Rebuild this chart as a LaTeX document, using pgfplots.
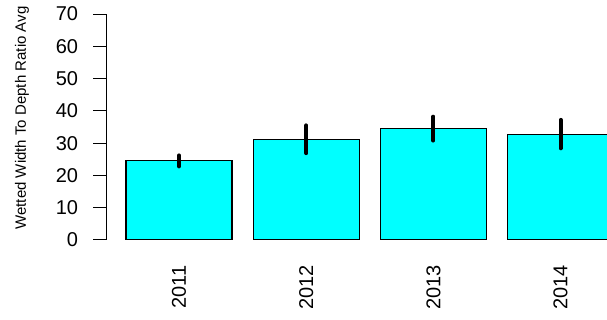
\documentclass[border=0pt]{standalone}
\usepackage{fontspec}
\setmainfont{Liberation Sans}
\usepackage{pgfplots}
\pgfplotsset{compat=1.18}
\definecolor{barcyan}{HTML}{00FFFF}

\begin{document}
\begin{tikzpicture}
\useasboundingbox (0,0) rectangle (303.5pt,160pt);
\begin{axis}[
    at={(53.25pt,40pt)}, anchor=south west,
    scale only axis,
    width=250.25pt, height=113pt,
    xmin=0.016, xmax=4.738,
    ymin=0, ymax=70,
    axis y line*=left,
    axis x line*=bottom,
    x axis line style={draw=none},
    y axis line style={line width=0.5pt},
    xtick={0.7,1.9,3.1,4.3},
    xticklabels={2011,2012,2013,2014},
    xtick style={draw=none},
    ytick={0,10,...,70},
    tick align=outside,
    major tick length=6.5pt,
    ytick style={line width=0.5pt, black},
    /pgf/number format/assume math mode=true,
    yticklabel style={font=\fontsize{10}{12}\selectfont, inner sep=0pt, xshift=-7.5pt},
    xticklabel style={font=\fontsize{10}{12}\selectfont, rotate=90, anchor=east, inner sep=0pt, xshift=-6pt},
    ybar, bar width=1,
]
\addplot[fill=barcyan, draw=black, line width=0.6pt,
    error bars/.cd, y dir=both, y explicit,
    error mark=none,
    error bar style={line width=2pt, line cap=round, black}]
coordinates {
    (0.7, 24.5) +- (0, 1.7)
    (1.9, 31.2) +- (0, 4.3)
    (3.1, 34.5) +- (0, 3.7)
    (4.3, 32.8) +- (0, 4.4)
};
\end{axis}
\node[rotate=90, font=\fontsize{7.5}{9}\selectfont] at (11pt,101pt) {Wetted Width To Depth Ratio Avg};
\end{tikzpicture}
\end{document}
